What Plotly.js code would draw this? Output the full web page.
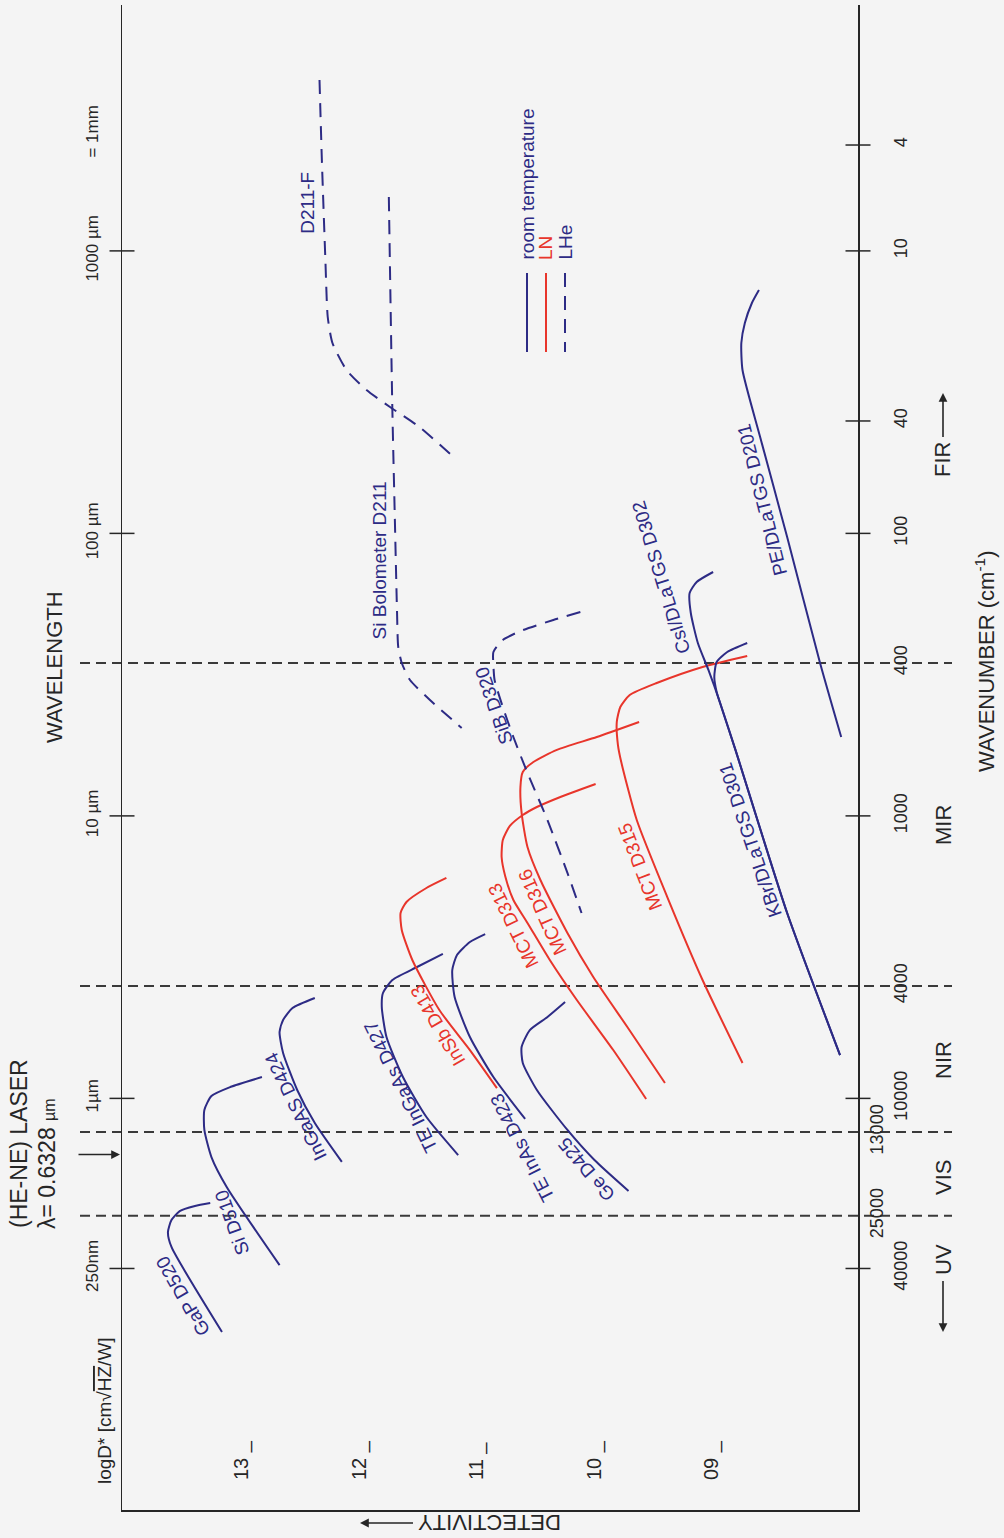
<!DOCTYPE html>
<html><head><meta charset="utf-8">
<script src="https://cdn.plot.ly/plotly-3.0.1.min.js"></script>
<style>html,body{margin:0;padding:0;background:#f4f4f4;}#chart{width:1004px;height:1538px;}</style>
</head><body><div id="chart"></div>
<script>
// ---------------- DATA ----------------
// Detectivity axis (log D*)
const detTicks = [13, 12, 11, 10, 9];
const detTickText = ['13 _', '12 _', '11 _', '10 _', '09 _'];
// Wavelength axis (µm)
const wlTicks = [0.25, 1, 10, 100, 1000, 2594];
const wlTickText = ['250nm', '1µm', '10 µm', '100 µm', '1000 µm', '= 1mm'];
const wlTickMarks = [0.25, 1, 10, 100, 1000];
// Wavenumber axis (cm-1), placed at wavelength positions (µm)
const wnLabels = ['4', '10', '40', '100', '400', '1000', '4000', '10000', '40000'];
const wnPos = [2370, 1000, 250, 100, 34.8, 10, 2.5, 1, 0.25];
const wnInnerLabels = ['13000', '25000'];
const wnInnerPos = [0.76, 0.384];
const wnMarks = [2370, 1000, 250, 100, 10, 1, 0.25];
// Region boundaries (dashed lines), µm
const regionBounds = [34.8, 2.5, 0.76, 0.384];
const laserWl = 0.6328;

// Detector curves: detectivity (log D*) vs wavelength (µm)
const gap520_det = [13.27, 13.40, 13.53, 13.60, 13.63, 13.60, 13.17];
const gap520_wl  = [0.426, 0.416, 0.399, 0.371, 0.336, 0.298, 0.149];
const si510_det = [12.83, 13.10, 13.26, 13.32, 13.32, 13.26, 13.13, 12.68];
const si510_wl  = [1.19, 1.097, 1.020, 0.910, 0.773, 0.620, 0.486, 0.257];
const ingaas424_det = [12.38, 12.57, 12.65, 12.68, 12.65, 12.53, 12.38, 12.15];
const ingaas424_wl  = [2.267, 2.089, 1.894, 1.718, 1.448, 1.071, 0.818, 0.596];
const teingaas427_det = [11.29, 11.51, 11.72, 11.80, 11.81, 11.77, 11.63, 11.43, 11.16];
const teingaas427_wl  = [3.245, 2.918, 2.625, 2.361, 2.106, 1.649, 1.190, 0.859, 0.630];
const insb413_det = [11.26, 11.43, 11.60, 11.65, 11.64, 11.55, 11.32, 11.06, 10.83];
const insb413_wl  = [6.03, 5.556, 4.957, 4.532, 3.946, 3.090, 2.055, 1.483, 1.088];
const teinas423_det = [10.93, 11.06, 11.17, 11.21, 11.19, 11.06, 10.86, 10.59];
const teinas423_wl  = [3.818, 3.578, 3.218, 2.848, 2.285, 1.649, 1.190, 0.846];
const ge425_det = [10.25, 10.40, 10.55, 10.62, 10.61, 10.49, 10.23, 10.00, 9.71];
const ge425_wl  = [2.194, 1.942, 1.746, 1.520, 1.335, 1.071, 0.773, 0.605, 0.470];
const mct313_det = [9.99, 10.29, 10.49, 10.61, 10.72, 10.78, 10.79, 10.76, 10.69, 10.57, 10.38, 10.15, 9.84, 9.56];
const mct313_wl  = [12.97, 11.67, 10.75, 10.07, 9.21, 8.22, 7.15, 6.13, 5.04, 4.18, 3.09, 2.23, 1.483, 0.995];
const mct316_det = [9.62, 9.98, 10.32, 10.52, 10.61, 10.63, 10.62, 10.57, 10.46, 10.23, 10.01, 9.72, 9.40];
const mct316_wl  = [21.5, 19.02, 17.12, 15.51, 14.30, 12.66, 10.24, 7.76, 5.93, 3.85, 2.69, 1.789, 1.134];
const mct315_det = [8.70, 9.08, 9.47, 9.70, 9.78, 9.81, 9.80, 9.77, 9.64, 9.38, 9.08, 8.74];
const mct315_wl  = [36.81, 33.66, 29.54, 26.79, 24.29, 21.50, 17.82, 15.39, 9.67, 5.16, 2.625, 1.335];
const sib320_det = [10.12, 10.35, 10.63, 10.78, 10.86, 10.86, 10.85, 10.78, 10.69, 10.57, 10.40, 10.23, 10.11];
const sib320_wl  = [52.7, 49.38, 45.13, 41.95, 38.04, 34.21, 30.28, 24.29, 19.02, 14.19, 9.67, 6.28, 4.532];
const sibolo211_det = [11.75, 11.72, 11.70, 11.68, 11.67, 11.64, 11.57, 11.40, 11.13];
const sibolo211_wl  = [1551, 273.4, 118.1, 52.27, 39.62, 34.77, 30.28, 25.72, 20.48];
const d211f_det = [12.34, 12.32, 12.29, 12.27, 12.23, 12.11, 11.94, 11.74, 11.49, 11.20];
const d211f_wl  = [4027, 2098, 928.6, 583.4, 472.1, 378.7, 321.8, 280.2, 238.0, 186.4];
const pe201_det = [8.60, 8.66, 8.72, 8.75, 8.74, 8.59, 8.36, 8.08, 7.90];
const pe201_wl  = [727, 654, 555.6, 472.1, 378.7, 219.4, 97.1, 34.77, 19.02];
const csi302_det = [8.99, 9.13, 9.19, 9.18, 9.12, 9.03, 8.93, 8.80, 8.36, 7.91];
const csi302_wl  = [73.0, 67.3, 61.52, 52.27, 40.93, 32.85, 25.09, 17.12, 4.532, 1.424];
const kbr301_det = [8.70, 8.87, 8.96, 8.98, 8.96, 8.92, 8.80, 8.36, 7.91];
const kbr301_wl  = [40.93, 38.04, 35.06, 31.02, 27.46, 24.29, 17.12, 4.532, 1.424];

// ---------------- STYLE / LAYOUT ----------------
const NAVY = '#2d2b85', RED = '#e8352b', INK = '#262626';
const FONT = 'Liberation Sans, Arial, Helvetica, sans-serif';
const LHE_DASH = '14px,9px';

const curves = [
  [gap520_det, gap520_wl, NAVY, 'solid'],
  [si510_det, si510_wl, NAVY, 'solid'],
  [ingaas424_det, ingaas424_wl, NAVY, 'solid'],
  [teingaas427_det, teingaas427_wl, NAVY, 'solid'],
  [insb413_det, insb413_wl, RED, 'solid'],
  [teinas423_det, teinas423_wl, NAVY, 'solid'],
  [ge425_det, ge425_wl, NAVY, 'solid'],
  [mct313_det, mct313_wl, RED, 'solid'],
  [mct316_det, mct316_wl, RED, 'solid'],
  [mct315_det, mct315_wl, RED, 'solid'],
  [sib320_det, sib320_wl, NAVY, LHE_DASH],
  [sibolo211_det, sibolo211_wl, NAVY, LHE_DASH],
  [d211f_det, d211f_wl, NAVY, LHE_DASH],
  [pe201_det, pe201_wl, NAVY, 'solid'],
  [csi302_det, csi302_wl, NAVY, 'solid'],
  [kbr301_det, kbr301_wl, NAVY, 'solid']
];

const traces = curves.map(c => ({
  type: 'scatter', mode: 'lines', x: c[0], y: c[1],
  line: {color: c[2], width: 2, dash: c[3], shape: 'spline', smoothing: 0.6},
  hoverinfo: 'skip', showlegend: false
}));
traces.push({type: 'scatter', mode: 'lines', x: [], y: [], yaxis: 'y2', hoverinfo: 'skip', showlegend: false});
traces.push({type: 'scatter', mode: 'lines', x: [], y: [], yaxis: 'y3', hoverinfo: 'skip', showlegend: false});

// plot area in page pixels: x 122..858, y 5..1510
const PL = 122, PW = 736, PB = 1510, PH = 1505;
const pX = x => (x - PL) / PW;
const pY = y => (PB - y) / PH;

const YR = [-1.457, 3.8704];
const XR = [14.021, 7.757];

const shapes = [];
regionBounds.forEach(v => shapes.push({type: 'line', layer: 'below', xref: 'paper', yref: 'y',
  x0: pX(80), x1: pX(952), y0: v, y1: v, line: {color: '#3a3a3a', width: 2, dash: '10px,6px'}}));
wlTickMarks.forEach(v => shapes.push({type: 'line', xref: 'paper', yref: 'y',
  x0: pX(109.5), x1: pX(134.5), y0: v, y1: v, line: {color: INK, width: 1.5}}));
wnMarks.forEach(v => shapes.push({type: 'line', xref: 'paper', yref: 'y',
  x0: pX(845.5), x1: pX(870.5), y0: v, y1: v, line: {color: INK, width: 1.5}}));
// legend lines
[[527, NAVY, 'solid'], [546, RED, 'solid'], [565, NAVY, LHE_DASH]].forEach(l => shapes.push({
  type: 'line', xref: 'paper', yref: 'paper', x0: pX(l[0]), x1: pX(l[0]), y0: pY(273), y1: pY(352),
  line: {color: l[1], width: 2, dash: l[2]}}));

// curve labels: [text, detectivity, wavelength µm, angle, colour]
const curveLabels = [
  ['GaP D520', 13.50, 0.200, -120, NAVY],
  ['Si D510', 13.09, 0.365, -110, NAVY],
  ['InGaAS D424', 12.54, 0.940, -116, NAVY],
  ['TE InGaAs D427', 11.65, 1.096, -116, NAVY],
  ['InSb D413', 11.33, 1.819, -120, RED],
  ['TE InAs D423', 10.61, 0.668, -117, NAVY],
  ['Ge D425', 10.07, 0.561, -130, NAVY],
  ['MCT D313', 10.69, 4.11, -116, RED],
  ['MCT D316', 10.44, 4.57, -114, RED],
  ['MCT D315', 9.61, 6.65, -111, RED],
  ['KBr/DLaTGS D301', 8.67, 8.22, -108.5, NAVY],
  ['CsI/DLaTGS D302', 9.43, 70.1, -107, NAVY],
  ['PE/DLaTGS D201', 8.57, 131.5, -104, NAVY],
  ['SiB D320', 10.85, 24.5, -109, NAVY],
  ['Si Bolometer D211', 11.83, 80.5, -90, NAVY],
  ['D211-F', 12.44, 1478, -90, NAVY]
];
const annotations = curveLabels.map(l => ({
  text: l[0], xref: 'x', yref: 'y', x: l[1], y: Math.log10(l[2]), textangle: l[3],
  xanchor: 'center', yanchor: 'middle',
  showarrow: false, font: {size: 19, color: l[4], family: FONT}
}));

function txt(text, x, y, size, angle, extra) {
  return Object.assign({text: text, xref: 'paper', yref: 'paper', x: pX(x), y: pY(y),
    xanchor: 'center', yanchor: 'middle',
    textangle: angle, showarrow: false, font: {size: size, color: INK, family: FONT}}, extra || {});
}
const arrowStyle = {showarrow: true, arrowhead: 2, arrowsize: 1.1, arrowwidth: 1.6, arrowcolor: INK, standoff: 0, startstandoff: 4};
// text with arrow: head at (hx, hy), text centre at (tx, ty)
function arrowTxt(text, hx, hy, tx, ty, size, angle) {
  return Object.assign({}, arrowStyle, {text: text, xref: 'paper', yref: 'paper', x: pX(hx), y: pY(hy),
    axref: 'pixel', ayref: 'pixel', ax: tx - hx, ay: ty - hy, textangle: angle,
    font: {size: size, color: INK, family: FONT}});
}
// legend texts
annotations.push(txt('room temperature', 527, 262, 19, -90, {yanchor: 'bottom', font: {size: 19, color: NAVY, family: FONT}}));
annotations.push(txt('LN', 546, 262, 19, -90, {yanchor: 'bottom', font: {size: 19, color: RED, family: FONT}}));
annotations.push(txt('LHe', 565, 262, 19, -90, {yanchor: 'bottom', font: {size: 19, color: NAVY, family: FONT}}));
// titles
annotations.push(txt('WAVELENGTH', 55, 667, 22, -90));
annotations.push(txt('WAVENUMBER (cm<sup>-1</sup>)', 985, 662, 22, -90));
annotations.push(arrowTxt('DETECTIVITY', 360, 1523, 490, 1523, 22, 180));
annotations.push(txt('logD* [cm√<span style="text-decoration:overline">HZ</span>/W]', 104, 1411, 19, -90));
annotations.push(txt('(HE-NE) LASER', 19, 1143, 23, -90));
annotations.push(txt('λ= 0.6328 <span style="font-size:16px">µm</span>', 47, 1164, 23, -90));
// spectral regions
annotations.push(arrowTxt('FIR', 943, 393, 943, 460, 22, -90));
annotations.push(txt('MIR', 943, 825, 22, -90));
annotations.push(txt('NIR', 943, 1060, 22, -90));
annotations.push(txt('VIS', 943, 1178, 22, -90));
annotations.push(arrowTxt('UV', 943, 1332, 943, 1260, 22, -90));
// laser arrow onto the wavelength axis
annotations.push(Object.assign({}, arrowStyle, {text: '', xref: 'paper', yref: 'y', x: pX(120), y: Math.log10(laserWl), ax: -47, ay: 0}));

const axBase = {showgrid: false, zeroline: false, fixedrange: true};
const layout = {
  width: 1004, height: 1538,
  margin: {l: PL, r: 1004 - PL - PW, t: 5, b: 1538 - PB},
  paper_bgcolor: '#f4f4f4', plot_bgcolor: 'rgba(0,0,0,0)',
  font: {family: FONT, color: INK},
  showlegend: false,
  xaxis: Object.assign({}, axBase, {range: XR, showline: true, linecolor: INK, linewidth: 1.5,
    ticks: '', tickvals: detTicks, ticktext: detTickText, tickangle: -90,
    ticklabelposition: 'inside', ticklabelstandoff: 24, tickfont: {size: 20, color: INK}}),
  yaxis: Object.assign({}, axBase, {type: 'log', range: YR, showline: true, linecolor: INK, linewidth: 1.5,
    ticks: '', tickvals: wlTicks, ticktext: wlTickText, tickangle: -90, ticklabelstandoff: 16,
    tickfont: {size: 17, color: INK}}),
  yaxis2: Object.assign({}, axBase, {type: 'log', range: YR, overlaying: 'y', side: 'right', anchor: 'x',
    showline: true, linecolor: INK, linewidth: 1.5, ticks: '', tickvals: wnPos, ticktext: wnLabels,
    tickangle: -90, ticklabelstandoff: 26, tickfont: {size: 18, color: INK}}),
  yaxis3: Object.assign({}, axBase, {type: 'log', range: YR, overlaying: 'y', side: 'right', anchor: 'x',
    showline: false, ticks: '', tickvals: wnInnerPos, ticktext: wnInnerLabels,
    tickangle: -90, ticklabelstandoff: 6, tickfont: {size: 18, color: INK}}),
  shapes: shapes,
  annotations: annotations
};

Plotly.newPlot('chart', traces, layout, {staticPlot: true, displayModeBar: false});
</script></body></html>
